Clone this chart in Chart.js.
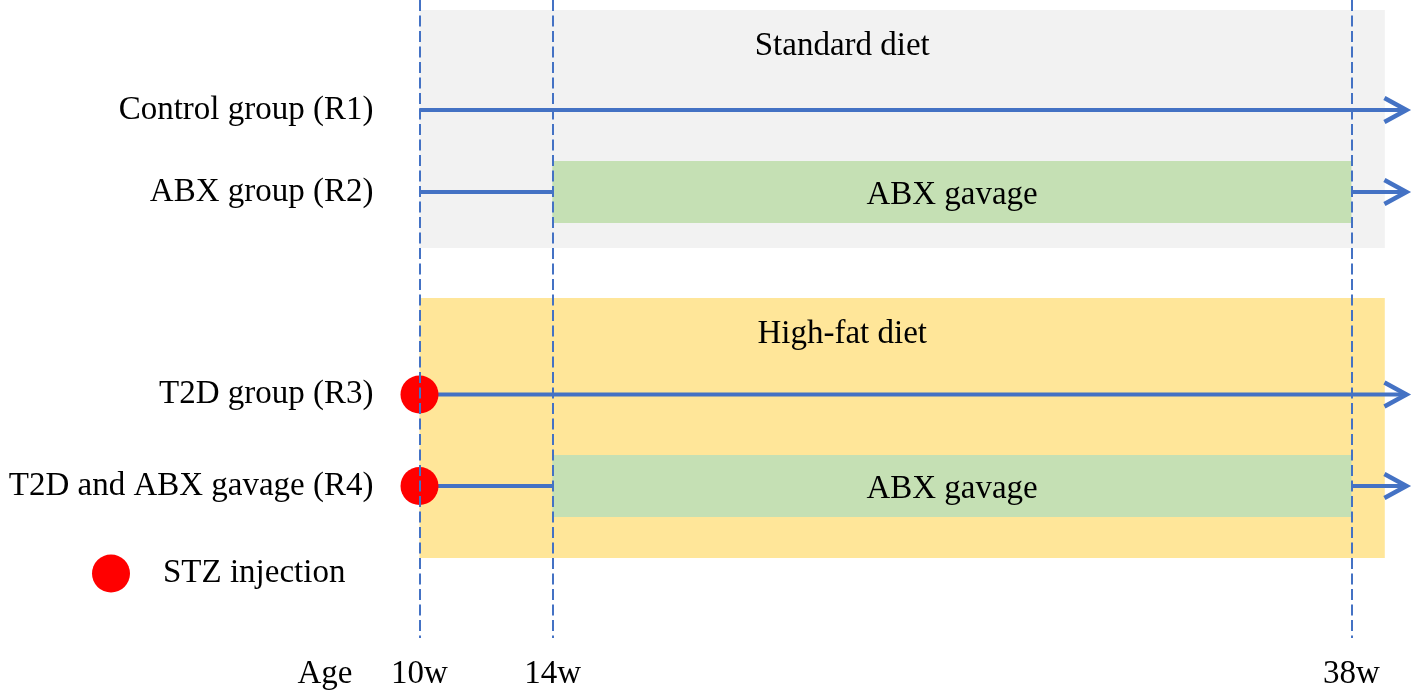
<!DOCTYPE html>
<html>
<head>
<meta charset="utf-8">
<script src="https://cdn.jsdelivr.net/npm/chart.js@4.4.0/dist/chart.umd.min.js"></script>
<style>
  html, body { margin: 0; padding: 0; background: #ffffff; }
  #wrap { width: 1417px; height: 697px; position: relative; }
</style>
</head>
<body>
<div id="wrap"><canvas id="timeline"></canvas></div>
<script>
// rows of the study design, lanes are positions on the hidden y axis
const groups = ["Control group (R1)", "ABX group (R2)", "T2D group (R3)", "T2D and ABX gavage (R4)"];
const groupLanes = [1.1, 1.92, 3.945, 4.86];
const gavageFrom = [null, 14, null, 14];
const gavageTo = [null, 38, null, 38];
const stzWeek = [null, null, 10, 10];
const startWeek = 10;
const arrowWeek = 39.65;

const diets = ["Standard diet", "High-fat diet"];
const dietTop = [0.1, 2.98];
const dietBottom = [2.48, 5.58];
const dietEnd = 39;
const dietLabelWeek = 22.7;

const weekTicks = [10, 14, 38];
const gavageLabel = "ABX gavage";
const legendLabel = "STZ injection";
const axisLabel = "Age";

const BLUE = "#4472C4";
const dietColors = ["#F2F2F2", "#FFE699"];
const GREEN = "#C5E0B4";
const RED = "#FF0000";
const FONT = '33px "Liberation Serif"';

Chart.defaults.font.family = '"Liberation Serif", "Times New Roman", serif';

// line segments: plain line until gavage starts, then again after it ends
const lineSets = [];
groups.forEach((g, i) => {
    const lane = groupLanes[i];
    const segs = gavageFrom[i] != null
        ? [[startWeek, gavageFrom[i]], [gavageTo[i], arrowWeek]]
        : [[startWeek, arrowWeek]];
    segs.forEach(s => {
        lineSets.push({
            type: "line",
            data: [{ x: s[0], y: lane }, { x: s[1], y: lane }],
            borderColor: BLUE,
            borderWidth: 4,
            pointRadius: 0,
            fill: false,
            clip: false,
            order: 2
        });
    });
});

const gavageBars = {
    type: "bar",
    indexAxis: "y",
    yAxisID: "yG",
    data: groups.map((g, i) => gavageFrom[i] != null ? { x: [gavageFrom[i], gavageTo[i]], y: groupLanes[i] } : null)
        .filter(d => d),
    backgroundColor: GREEN,
    borderWidth: 0,
    barThickness: 61.5,
    order: 3
};

const stzDots = {
    type: "line",
    showLine: false,
    data: groups.map((g, i) => stzWeek[i] != null ? { x: stzWeek[i], y: groupLanes[i] } : null).filter(d => d),
    pointRadius: 19,
    pointHoverRadius: 19,
    pointBackgroundColor: RED,
    pointBorderWidth: 0,
    clip: false,
    order: 1
};

const decor = {
    id: "decor",
    beforeDatasetsDraw(chart) {
        const { ctx, scales: { x, y } } = chart;
        ctx.save();
        diets.forEach((d, i) => {
            const l = x.getPixelForValue(startWeek);
            const r = x.getPixelForValue(dietEnd);
            const t = y.getPixelForValue(dietTop[i]);
            const b = y.getPixelForValue(dietBottom[i]);
            ctx.fillStyle = dietColors[i];
            ctx.fillRect(l, t, r - l, b - t);
        });
        ctx.restore();
    },
    afterDatasetsDraw(chart) {
        const { ctx, scales: { x, y } } = chart;
        ctx.save();
        // arrow heads
        ctx.strokeStyle = BLUE;
        ctx.lineWidth = 4.5;
        ctx.lineJoin = "miter";
        groupLanes.forEach(lane => {
            const tx = x.getPixelForValue(arrowWeek);
            const ty = y.getPixelForValue(lane);
            ctx.beginPath();
            ctx.moveTo(tx - 22, ty - 12);
            ctx.lineTo(tx, ty);
            ctx.lineTo(tx - 22, ty + 12);
            ctx.stroke();
        });

        ctx.font = FONT;
        ctx.fillStyle = "#000";
        ctx.textBaseline = "alphabetic";

        ctx.textAlign = "right";
        groups.forEach((g, i) => {
            ctx.fillText(g, x.getPixelForValue(startWeek) - 46, y.getPixelForValue(groupLanes[i]) + 8.5);
        });

        ctx.textAlign = "center";
        diets.forEach((d, i) => {
            ctx.fillText(d, x.getPixelForValue(dietLabelWeek), y.getPixelForValue(dietTop[i]) + 45);
        });
        groups.forEach((g, i) => {
            if (gavageFrom[i] == null) return;
            const cx = x.getPixelForValue((gavageFrom[i] + gavageTo[i]) / 2);
            ctx.fillText(gavageLabel, cx, y.getPixelForValue(groupLanes[i]) + 11.5);
        });
        ctx.restore();
    },
    afterDraw(chart) {
        const { ctx, scales: { x } } = chart;
        ctx.save();
        // legend for the red dots
        ctx.fillStyle = RED;
        ctx.beginPath();
        ctx.arc(111, 573.5, 19, 0, Math.PI * 2);
        ctx.fill();
        ctx.font = FONT;
        ctx.fillStyle = "#000";
        ctx.textAlign = "left";
        ctx.textBaseline = "alphabetic";
        ctx.fillText(legendLabel, 163, 582);
        // "Age" next to the week ticks
        ctx.textAlign = "right";
        ctx.textBaseline = "middle";
        ctx.fillText(axisLabel, x.getPixelForValue(startWeek) - 67, x.top + 17 + 19.8);
        ctx.restore();
    }
};

new Chart(document.getElementById("timeline"), {
    type: "line",
    data: { datasets: [...lineSets, gavageBars, stzDots] },
    options: {
        responsive: true,
        maintainAspectRatio: false,
        animation: false,
        events: [],
        layout: { autoPadding: false, padding: { left: 419.5, right: 65.5, top: 0, bottom: 0 } },
        plugins: {
            legend: { display: false },
            tooltip: { enabled: false }
        },
        scales: {
            x: {
                type: "linear",
                min: 10,
                max: 38,
                afterBuildTicks: axis => { axis.ticks = weekTicks.map(v => ({ value: v })); },
                afterFit: axis => { axis.height = 59; },
                grid: { color: BLUE, lineWidth: 2, drawTicks: false, z: 1 },
                border: { display: false, dash: [11, 4.5] },
                ticks: {
                    color: "#000",
                    font: { size: 33 },
                    padding: 17,
                    maxRotation: 0,
                    autoSkip: false,
                    callback: v => v + "w"
                }
            },
            y: { type: "linear", display: false, min: 0, max: 6.38, reverse: true, offset: false },
            yG: { type: "linear", display: false, min: 0, max: 6.38, reverse: true, offset: false, grid: { offset: false } }
        }
    },
    plugins: [decor]
});
</script>
</body>
</html>
